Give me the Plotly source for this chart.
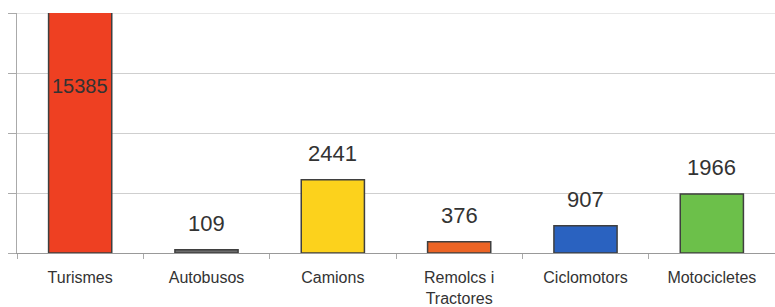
import plotly.graph_objects as go

categories = ["Turismes", "Autobusos", "Camions", "Remolcs i<br>Tractores", "Ciclomotors", "Motocicletes"]
values = [15385, 109, 2441, 376, 907, 1966]
colors = ["#EE4022", "#6B6B6B", "#FCD21C", "#EC6425", "#2A62C0", "#6CC04A"]
y_max = 8000
y_ticks = [0, 2000, 4000, 6000, 8000]

fig = go.Figure()
fig.add_trace(go.Bar(
    x=categories, y=values, width=0.5,
    marker=dict(color=colors, line=dict(color="#3f3f3f", width=1.5)),
))

annotations = []
for c, v in zip(categories, values):
    if v <= y_max:
        annotations.append(dict(x=c, y=v, text=str(v), showarrow=False, yanchor="bottom",
                                yshift=12, font=dict(family="Liberation Sans", size=22, color="#333")))
    else:
        annotations.append(dict(x=c, y=0.696, yref="paper", text=str(v), showarrow=False,
                                yanchor="middle", font=dict(family="Liberation Sans", size=20, color="#333")))

fig.add_shape(type="line", xref="paper", x0=0, x1=1, yref="y", y0=y_max, y1=y_max,
              line=dict(color="#cfcfcf", width=1), layer="below")

fig.update_layout(
    width=775, height=307,
    margin=dict(l=17, r=0, t=13, b=54, autoexpand=False),
    paper_bgcolor="white", plot_bgcolor="white",
    showlegend=False,
    annotations=annotations,
    xaxis=dict(range=[-0.5, 5.5], showline=True, linecolor="#999", linewidth=1,
               ticks="outside", tickson="boundaries", ticklen=5, tickcolor="#aaa",
               tickfont=dict(family="Liberation Sans", size=16, color="#333"),
               ticklabelstandoff=10, automargin=False, fixedrange=True),
    yaxis=dict(range=[0, y_max], tickvals=y_ticks, showticklabels=False,
               showgrid=True, gridcolor="#cfcfcf", gridwidth=1, zeroline=False,
               showline=True, linecolor="#aaa", linewidth=1, automargin=False,
               ticks="outside", ticklen=8, tickcolor="#aaa"),
)

fig.write_html("out.html", config={"displayModeBar": False},
               post_script="document.body.style.margin='0';")
